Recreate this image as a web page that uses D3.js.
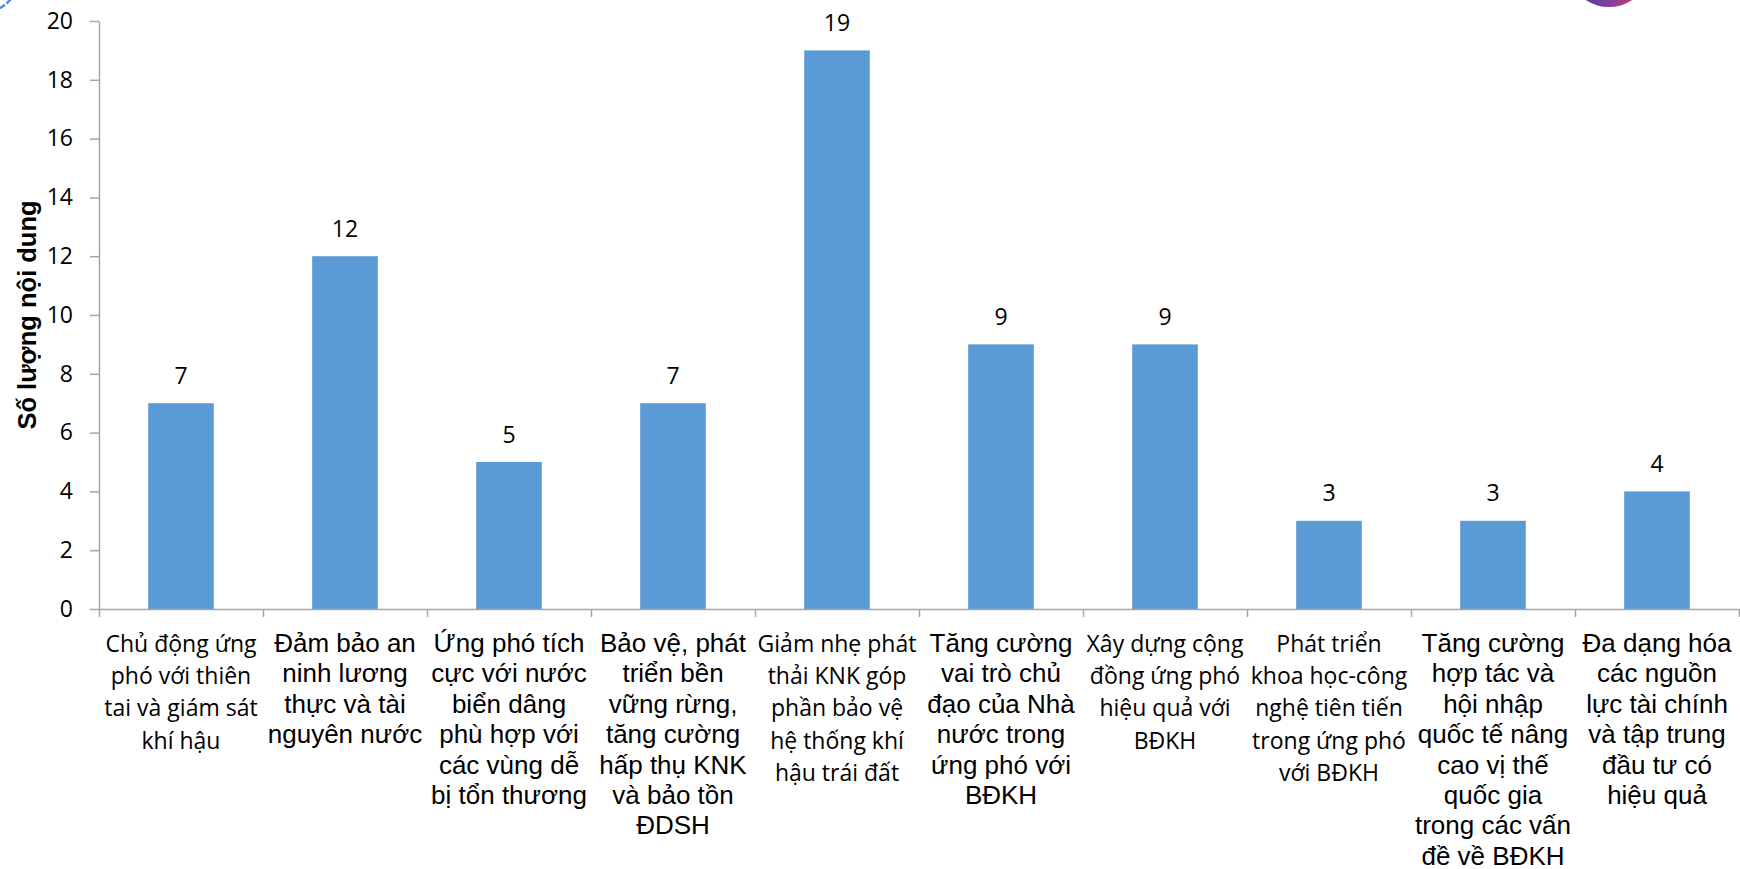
<!DOCTYPE html>
<html>
<head>
<meta charset="utf-8">
<script src="https://cdn.jsdelivr.net/npm/d3@7"></script>
<style>
  body { margin: 0; background: #fff; }
  .axis path, .axis line { stroke: #a6a6a6; stroke-width: 1.5; }
</style>
</head>
<body>
<div id="chart"></div>
<script>
// data
const categories = [
  ["Chủ động ứng", "phó với thiên", "tai và giám sát", "khí hậu"],
  ["Đảm bảo an", "ninh lương", "thực và tài", "nguyên nước"],
  ["Ứng phó tích", "cực với nước", "biển dâng", "phù hợp với", "các vùng dễ", "bị tổn thương"],
  ["Bảo vệ, phát", "triển bền", "vững rừng,", "tăng cường", "hấp thụ KNK", "và bảo tồn", "ĐDSH"],
  ["Giảm nhẹ phát", "thải KNK góp", "phần bảo vệ", "hệ thống khí", "hậu trái đất"],
  ["Tăng cường", "vai trò chủ", "đạo của Nhà", "nước trong", "ứng phó với", "BĐKH"],
  ["Xây dựng cộng", "đồng ứng phó", "hiệu quả với", "BĐKH"],
  ["Phát triển", "khoa học-công", "nghệ tiên tiến", "trong ứng phó", "với BĐKH"],
  ["Tăng cường", "hợp tác và", "hội nhập", "quốc tế nâng", "cao vị thế", "quốc gia", "trong các vấn", "đề về BĐKH"],
  ["Đa dạng hóa", "các nguồn", "lực tài chính", "và tập trung", "đầu tư có", "hiệu quả"]
];
const values = [7, 12, 5, 7, 19, 9, 9, 3, 3, 4];
const yTicks = [0, 2, 4, 6, 8, 10, 12, 14, 16, 18, 20];
const yTitle = "Số lượng nội dung";
// which labels are set in the humanist (Calibri-like) face, the rest are Arial-like
const humanistLabels = [0, 4, 6, 7];

const width = 1740, height = 869;
const margin = {top: 21, right: 1, bottom: 260, left: 99};
const innerWidth = width - margin.left - margin.right,
      innerHeight = height - margin.top - margin.bottom;

const svg = d3.select("#chart")
  .append("svg")
    .attr("width", width)
    .attr("height", height)
    .style("font-family", "'Open Sans', sans-serif");

// cropped logo fragments at the picture's top corners
const grad = svg.append("defs").append("linearGradient")
  .attr("id", "ball").attr("x1", "0").attr("x2", "1");
grad.append("stop").attr("offset", "0").attr("stop-color", "#4b3aa8");
grad.append("stop").attr("offset", "0.55").attr("stop-color", "#8a3f9a");
grad.append("stop").attr("offset", "1").attr("stop-color", "#d23a55");
svg.append("ellipse")
  .attr("cx", 1609).attr("cy", -14).attr("rx", 31).attr("ry", 21)
  .attr("fill", "url(#ball)");
svg.append("circle")
  .attr("cx", -22).attr("cy", -30).attr("r", 44)
  .attr("fill", "none").attr("stroke", "#4a8fe0").attr("stroke-width", 2.5)
  .attr("stroke-dasharray", "6 2");

const g = svg.append("g")
  .attr("transform", "translate(" + margin.left + "," + margin.top + ")");

const xScale = d3.scaleBand()
  .domain(d3.range(values.length))
  .range([0, innerWidth])
  .paddingInner(0.6)
  .paddingOuter(0.3);

// boundaries between categories, for the tick marks
const xEdges = d3.scaleLinear()
  .domain([0, values.length])
  .range([0, innerWidth]);

const yScale = d3.scaleLinear()
  .domain([0, 20])
  .range([innerHeight, 0]);

// bars
g.selectAll(".bar")
  .data(values)
  .enter()
  .append("rect")
    .attr("class", "bar")
    .attr("x", (d, i) => xScale(i))
    .attr("y", d => yScale(d))
    .attr("width", xScale.bandwidth())
    .attr("height", d => innerHeight - yScale(d))
    .attr("fill", "#5b9bd5");

// value labels
g.selectAll(".value")
  .data(values)
  .enter()
  .append("text")
    .attr("class", "value")
    .attr("x", (d, i) => xScale(i) + xScale.bandwidth() / 2)
    .attr("y", d => yScale(d) - 19.5)
    .attr("text-anchor", "middle")
    .style("font-size", "23px")
    .style("fill", "#000")
    .text(d => d);

// y axis
const yAxis = g.append("g")
  .attr("class", "axis y-axis")
  .call(d3.axisLeft(yScale).tickValues(yTicks).tickSize(9).tickSizeOuter(0).tickPadding(17));
yAxis.selectAll("text")
  .style("font-family", "'Open Sans', sans-serif")
  .style("font-size", "23px")
  .style("fill", "#000");

// x axis: line plus ticks between categories
g.append("g")
  .attr("class", "axis x-axis")
  .attr("transform", "translate(0," + innerHeight + ")")
  .call(d3.axisBottom(xEdges).tickValues(d3.range(values.length + 1)).tickSize(8).tickSizeOuter(0).tickFormat(""));

// category labels, wrapped like the original
const labels = g.selectAll(".cat")
  .data(categories)
  .enter()
  .append("text")
    .attr("class", "cat")
    .attr("transform", (d, i) => "translate(" + (xScale(i) + xScale.bandwidth() / 2) + "," + (innerHeight + 43) + ")")
    .attr("text-anchor", "middle")
    .style("fill", "#000")
    .style("font-family", (d, i) => humanistLabels.includes(i) ? "'Open Sans', sans-serif" : "'Liberation Sans', Arial, sans-serif")
    .style("font-size", (d, i) => humanistLabels.includes(i) ? "23px" : "26px");

labels.each(function(lines, i) {
  const step = humanistLabels.includes(i) ? 32.2 : 30.4;
  d3.select(this).selectAll("tspan")
    .data(lines)
    .enter()
    .append("tspan")
      .attr("x", 0)
      .attr("y", (d, j) => j * step)
      .text(d => d);
});

// y title
svg.append("text")
  .attr("transform", "translate(36," + (margin.top + innerHeight / 2) + ") rotate(-90)")
  .attr("text-anchor", "middle")
  .style("font-family", "'Liberation Sans', Arial, sans-serif")
  .style("font-weight", "bold")
  .style("font-size", "25.5px")
  .style("fill", "#000")
  .text(yTitle);
</script>
</body>
</html>
